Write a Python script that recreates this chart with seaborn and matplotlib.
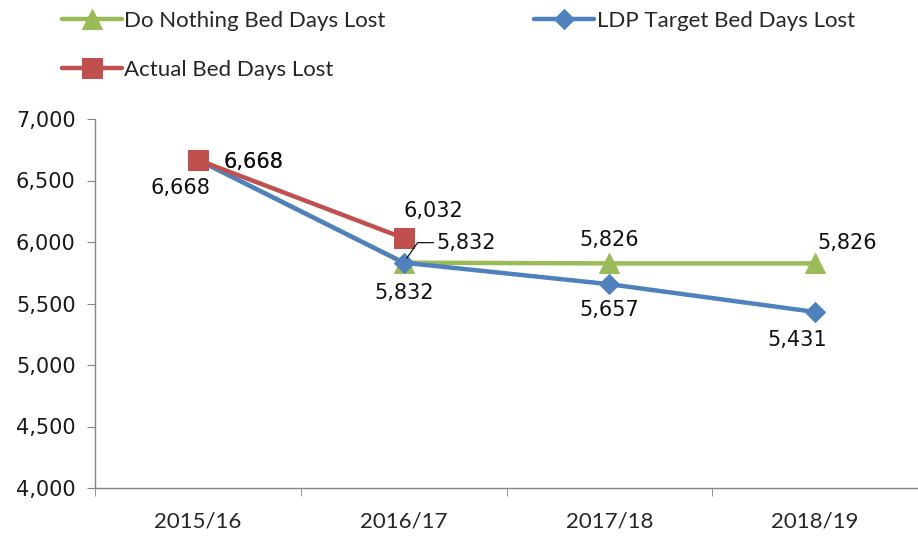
import numpy as np
import matplotlib
matplotlib.use("Agg")
import matplotlib.pyplot as plt
import matplotlib.ticker as ticker
import seaborn as sns

years = ["2015/16", "2016/17", "2017/18", "2018/19"]
do_nothing = [6668, 5832, 5826, 5826]
ldp_target = [6668, 5832, 5657, 5431]
actual = [6668, 6032]

green = "#9BBB59"
blue = "#4F81BD"
red = "#C0504D"

sns.set_style("white")
plt.rcParams["font.family"] = ["DejaVu Sans"]
label_font = "Lato"

fig = plt.figure(figsize=(9.18, 5.4), dpi=100)
ax = fig.add_axes([95/918, 1 - 488/540, 1 - 95/918, (488 - 119)/540])

x = np.arange(len(years))
sns.lineplot(x=x, y=do_nothing, ax=ax, color=green, lw=3.2, marker="^",
             markersize=14, markeredgecolor=green, label="Do Nothing Bed Days Lost")
sns.lineplot(x=x, y=ldp_target, ax=ax, color=blue, lw=3.2, marker="D",
             markersize=10, markeredgecolor=blue, label="LDP Target Bed Days Lost")
sns.lineplot(x=x[:len(actual)], y=actual, ax=ax, color=red, lw=3.2, marker="s",
             markersize=14, markeredgecolor=red, label="Actual Bed Days Lost")

ax.set_xlim(-0.5, 3.457)
ax.set_ylim(4000, 7000)
ax.yaxis.set_major_locator(ticker.MultipleLocator(500))
ax.yaxis.set_major_formatter(ticker.FuncFormatter(lambda v, p: f"{int(v):,}"))
ax.set_xticks(x)
ax.set_xticklabels(years, fontfamily=label_font, fontsize=16)
ax.set_xticks(np.arange(-0.5, 3.6, 1), minor=True)
ax.tick_params(axis="x", which="major", length=0, pad=17)
ax.tick_params(axis="x", which="minor", length=6, color="#868686", direction="out")
ax.tick_params(axis="y", length=6, color="#868686", direction="out", labelsize=15,
               labelcolor="#1a1a1a", pad=8)
ax.tick_params(axis="y", which="major", left=True)
ax.tick_params(axis="x", which="minor", bottom=True)
for s in ["top", "right"]:
    ax.spines[s].set_visible(False)
for s in ["left", "bottom"]:
    ax.spines[s].set_color("#868686")
    ax.spines[s].set_linewidth(1)

# data labels (offsets in pixels)
lab_kw = dict(textcoords="offset pixels", ha="center", va="center", fontsize=15,
              color="#111111")
for i, (v, off) in enumerate(zip(ldp_target, [(-17, -28), (0, -30), (0, -26), (-18, -28)])):
    ax.annotate(f"{v:,}", (x[i], v), xytext=off, **lab_kw)
for i, (v, off) in enumerate(zip(actual, [(56, -2), (30, 27)])):
    ax.annotate(f"{v:,}", (x[i], v), xytext=off, **lab_kw)
ax.annotate(f"{do_nothing[0]:,}", (x[0], do_nothing[0]), xytext=(56, -2), **lab_kw)
ax.annotate(f"{do_nothing[1]:,}", (x[1], do_nothing[1]), xytext=(63, 20),
            arrowprops=dict(arrowstyle="-", color="#111111", lw=0.9,
                            shrinkA=30, shrinkB=4,
                            connectionstyle="angle,angleA=0,angleB=55,rad=0"),
            **lab_kw)
ax.annotate(f"{do_nothing[2]:,}", (x[2], do_nothing[2]), xytext=(0, 23), **lab_kw)
ax.annotate(f"{do_nothing[3]:,}", (x[3], do_nothing[3]), xytext=(32, 20), **lab_kw)

handles, labels = ax.get_legend_handles_labels()
ax.legend_.remove()
order = [0, 2, 1]
fig.legend([handles[i] for i in order], [labels[i] for i in order],
           loc="upper left", bbox_to_anchor=(62/918, 0.98), ncol=2,
           frameon=False, borderpad=0, borderaxespad=0, handlelength=2.7,
           handletextpad=0.1, columnspacing=6.7, labelspacing=1.3,
           prop={"family": label_font, "size": 16})

fig.savefig("out.png", dpi=100)
